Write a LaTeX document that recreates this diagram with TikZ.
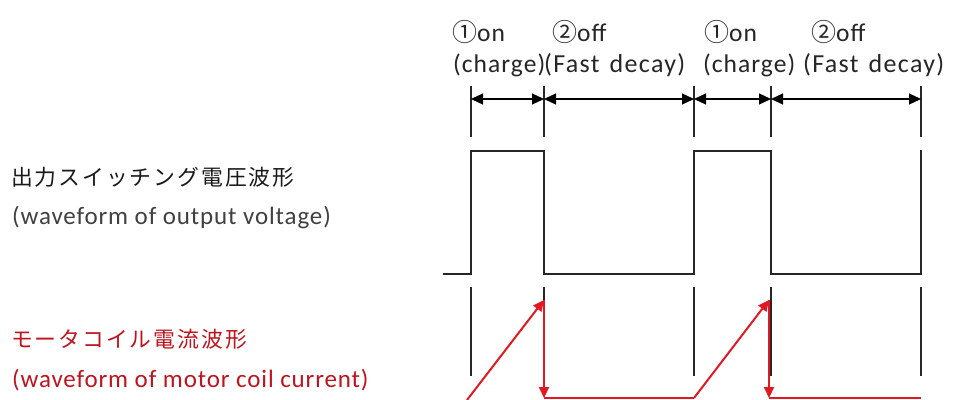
\documentclass[tikz,border=0pt]{standalone}
\usepackage{fontspec}
\setmainfont{Carlito}
\newfontfamily\jpfont[LetterSpace=9]{Noto Sans CJK JP}
\newfontfamily\cfont{Noto Sans CJK JP}
\newfontfamily\lsA[LetterSpace=3.5]{Carlito}
\newfontfamily\lsB[LetterSpace=4]{Carlito}
\newfontfamily\lsC[LetterSpace=5]{Carlito}
\usetikzlibrary{arrows.meta}
\definecolor{wred}{RGB}{225,25,35}
\definecolor{tred}{RGB}{190,20,30}
\newcommand{\circnum}[1]{{\cfont\fontsize{25}{27}\selectfont #1}}
\tikzset{
  tick/.style={line width=1.4pt, black!85},
  wave/.style={line width=1.4pt, black!85},
  dim/.style={line width=1.2pt, {Triangle[length=12pt,width=11pt]}-{Triangle[length=12pt,width=11pt]}},
  cur/.style={line width=2pt, wred},
  curarr/.style={cur, -{Triangle[length=11pt,width=10pt]}},
  lbl/.style={anchor=base west, inner sep=0pt, font=\lsB\fontsize{25.5}{27}\selectfont, text=black!85},
  lblw/.style={lbl, font=\lsC\fontsize{26}{28}\selectfont},
  jp/.style={anchor=base west, inner sep=0pt, font=\jpfont\fontsize{21.8}{24}\selectfont},
  en/.style={anchor=base west, inner sep=0pt, font=\lsA\fontsize{25}{27}\selectfont},
}
\begin{document}
\begin{tikzpicture}[x=1pt,y=-1pt]
\useasboundingbox (0,0) rectangle (958,399);
% tick lines
\foreach \i/\x in {1/471,2/544,3/694,4/771,5/921}{
  \coordinate (ta\i) at (\x,86);
  \coordinate (tb\i) at (\x,137);
  \coordinate (ba\i) at (\x,287);
  \coordinate (bb\i) at (\x,376);
  \coordinate (d\i) at (\x,99);
  \draw[tick] (ta\i) -- (tb\i);
  \draw[tick] (ba\i) -- (bb\i);
}
% dimension arrows
\draw[dim] (d1) -- (d2);
\draw[dim] (d2) -- (d3);
\draw[dim] (d3) -- (d4);
\draw[dim] (d4) -- (d5);
% voltage waveform
\coordinate (w0) at (443,274);
\coordinate (w1) at (471,274);
\coordinate (w2) at (471,151);
\coordinate (w3) at (544,151);
\coordinate (w4) at (544,274);
\coordinate (w5) at (694,274);
\coordinate (w6) at (694,151);
\coordinate (w7) at (771,151);
\coordinate (w8) at (771,274);
\coordinate (w9) at (921,274);
\coordinate (w10) at (921,150);
\draw[wave] (w0) -- (w1) -- (w2) -- (w3) -- (w4) -- (w5) -- (w6) -- (w7) -- (w8) -- (w9) -- (w10);
% current waveform
\coordinate (c0) at (467,400);
\coordinate (c1) at (544,300);
\coordinate (c2) at (544,398);
\coordinate (c3) at (694,398);
\coordinate (c4) at (769,300);
\coordinate (c5) at (769,398);
\coordinate (c6) at (921,398);
\draw[curarr] (c0) -- (c1);
\draw[curarr] (c1) -- (c2);
\draw[cur] (c2) -- (c3);
\draw[curarr] (c3) -- (c4);
\draw[curarr] (c4) -- (c5);
\draw[cur] (c5) -- (c6);
% top labels
\node[lbl] (on1) at (452,41) {\circnum{①}on};
\node[lbl] (off1) at (552,41) {\circnum{②}off};
\node[lbl] (on2) at (704,41) {\circnum{①}on};
\node[lbl] (off2) at (811,41) {\circnum{②}off};
\node[lbl] (ch1) at (453,72) {(charge)};
\node[lblw] (fd1) at (544,72) {(Fast\hspace{3pt} decay)};
\node[lbl] (ch2) at (703,72) {(charge)};
\node[lblw] (fd2) at (803,72) {(Fast\hspace{3pt} decay)};
% left labels
\node[jp, text=black!90] (jv) at (11,185) {出力スイッチング電圧波形};
\node[en, text=black!75] (ev) at (12,224) {(waveform of output voltage)};
\node[jp, text=tred] (jc) at (11,347) {モータコイル電流波形};
\node[en, text=tred] (ec) at (12,387) {(waveform of motor coil current)};
\end{tikzpicture}
\end{document}
